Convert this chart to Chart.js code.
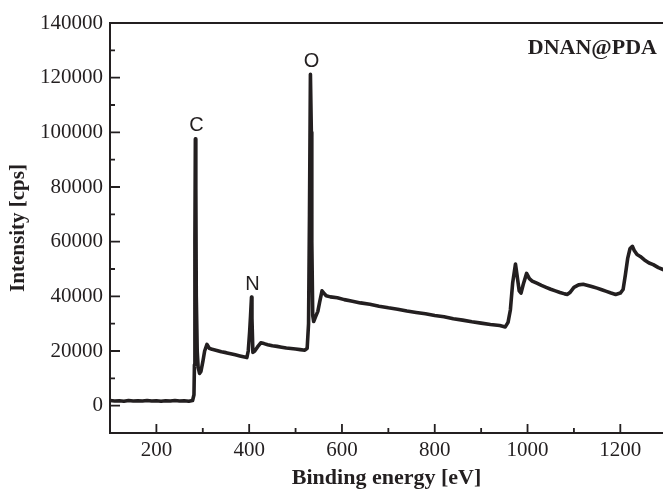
<!DOCTYPE html>
<html>
<head>
<meta charset="utf-8">
<script src="https://cdn.jsdelivr.net/npm/chart.js@4.4.1/dist/chart.umd.min.js"></script>
<style>
  html, body { margin: 0; padding: 0; background: #ffffff; }
  #wrap { width: 663px; height: 494px; }
</style>
</head>
<body>
<div id="wrap"><canvas id="c" width="663" height="494"></canvas></div>
<script>
// ---- data (binding energy [eV], intensity [cps]) ----
const energy = [
  100,110,120,130,140,150,160,170,180,190,200,210,220,230,240,250,260,270,278,
  281,282,283,284,285,286,288,290,293,296,300,304,309,314,320,330,340,350,360,370,380,390,395,
  398,401,403,405,406,408,412,418,425,432,440,450,460,470,480,490,500,510,520,
  525,528,530,532,534,535,537,539,543,548,552,557,561,566,575,590,605,620,640,660,680,700,
  720,740,760,780,800,820,840,860,880,900,920,940,952,
  958,963,968,974,978,982,986,991,998,1004,1010,1020,1030,1040,1050,1060,1070,1080,1086,
  1092,1100,1110,1120,1130,1140,1150,1160,1170,1180,1190,1200,1206,
  1211,1216,1221,1226,1230,1236,1243,1252,1262,1271,1282,1292
];
const intensity = [
  1900,1700,1800,1600,1900,1700,1800,1700,1900,1700,1800,1600,1800,1700,1900,1700,1800,1600,1900,
  4000,15000,60000,97600,80000,40000,20000,14000,11800,12500,16000,20000,22400,21000,20600,20200,19700,19400,19000,18600,18200,17800,17600,
  20000,27000,33000,39700,32000,19500,20000,21500,23000,22700,22300,21900,21700,21400,21100,20900,20700,20500,20300,
  21000,30000,70000,121200,100000,60000,33000,30800,32500,34500,38000,42000,41200,40200,39800,39500,38800,38300,37600,37100,36400,35800,
  35300,34600,34100,33600,33000,32500,31800,31300,30700,30200,29700,29300,28800,
  30500,35000,45000,51800,47000,42000,41200,44500,48400,46500,45600,44800,44000,43300,42600,42000,41400,40900,40700,
  41500,43300,44200,44400,44000,43500,43000,42400,41800,41200,40700,41200,42500,
  48000,54000,57500,58300,56800,55300,54600,53300,52200,51600,50500,49800
];
const xTicks = [200, 400, 600, 800, 1000, 1200];
const xMinorTicks = [100, 300, 500, 700, 900, 1100];
const yTicks = [0, 20000, 40000, 60000, 80000, 100000, 120000, 140000];
const yMinorTicks = [10000, 30000, 50000, 70000, 90000, 110000, 130000];
const peakNames = ['C', 'N', 'O'];
const peakEnergy = [284, 405, 532];
const peakIntensity = [97600, 39700, 121200];
const sampleName = 'DNAN@PDA';

const INK = '#231f20';
const SERIF = '"Liberation Serif", "Times New Roman", serif';
const points = energy.map((e, i) => ({ x: e, y: intensity[i] }));

const framePlugin = {
  id: 'frameTicks',
  afterDraw(chart) {
    const { ctx, chartArea: a, scales: { x, y } } = chart;
    ctx.save();
    ctx.strokeStyle = INK;
    ctx.lineWidth = 2;
    ctx.beginPath();
    ctx.moveTo(a.right + 2, a.top); ctx.lineTo(a.left, a.top);
    ctx.lineTo(a.left, a.bottom); ctx.lineTo(a.right + 2, a.bottom);
    ctx.stroke();
    ctx.lineWidth = 1.8;
    ctx.beginPath();
    yTicks.forEach(v => { const p = y.getPixelForValue(v); ctx.moveTo(a.left, p); ctx.lineTo(a.left + 10, p); });
    yMinorTicks.forEach(v => { const p = y.getPixelForValue(v); ctx.moveTo(a.left, p); ctx.lineTo(a.left + 5, p); });
    xTicks.forEach(v => { const p = x.getPixelForValue(v); ctx.moveTo(p, a.bottom); ctx.lineTo(p, a.bottom - 9); });
    xMinorTicks.forEach(v => { const p = x.getPixelForValue(v); ctx.moveTo(p, a.bottom); ctx.lineTo(p, a.bottom - 5); });
    ctx.stroke();
    // peak labels
    ctx.fillStyle = INK;
    ctx.font = '20px "Liberation Sans", Arial, sans-serif';
    ctx.textAlign = 'center';
    ctx.textBaseline = 'bottom';
    peakNames.forEach((n, i) => {
      ctx.fillText(n, x.getPixelForValue(peakEnergy[i]) + 1, y.getPixelForValue(peakIntensity[i]) - 3);
    });
    // sample name
    ctx.font = 'bold 22px ' + SERIF;
    ctx.textAlign = 'right';
    ctx.textBaseline = 'middle';
    ctx.fillText(sampleName, a.right - 6, a.top + 25);
    ctx.restore();
  }
};

new Chart(document.getElementById('c'), {
  type: 'line',
  data: {
    datasets: [{
      data: points,
      borderColor: INK,
      borderWidth: 3.6,
      borderJoinStyle: 'round',
      borderCapStyle: 'round',
      pointRadius: 0,
      tension: 0,
      fill: false
    }]
  },
  options: {
    responsive: false,
    animation: false,
    devicePixelRatio: 1,
    layout: { padding: { top: 23, right: 0, left: 0, bottom: 0 } },
    plugins: { legend: { display: false }, tooltip: { enabled: false } },
    scales: {
      x: {
        type: 'linear',
        min: 100,
        max: 1292,
        afterFit(s) { s.height = 61; },
        afterBuildTicks(s) { s.ticks = xTicks.map(v => ({ value: v })); },
        grid: { display: false, drawTicks: false },
        border: { display: false },
        ticks: {
          color: INK,
          padding: 5,
          maxRotation: 0,
          callback: v => String(v),
          font: { family: SERIF, size: 21 }
        },
        title: {
          display: true,
          text: 'Binding energy [eV]',
          color: INK,
          padding: { top: 0, bottom: 2 },
          font: { family: SERIF, size: 22, weight: 'bold' }
        }
      },
      y: {
        type: 'linear',
        min: -10000,
        max: 140000,
        afterFit(s) { s.width = 110; },
        afterBuildTicks(s) { s.ticks = yTicks.map(v => ({ value: v })); },
        grid: { display: false, drawTicks: false },
        border: { display: false },
        ticks: {
          color: INK,
          padding: 7,
          callback: v => String(v),
          font: { family: SERIF, size: 21 }
        },
        title: {
          display: true,
          text: 'Intensity [cps]',
          color: INK,
          padding: { top: 6, bottom: 0 },
          font: { family: SERIF, size: 21, weight: 'bold' }
        }
      }
    }
  },
  plugins: [framePlugin]
});
</script>
</body>
</html>
